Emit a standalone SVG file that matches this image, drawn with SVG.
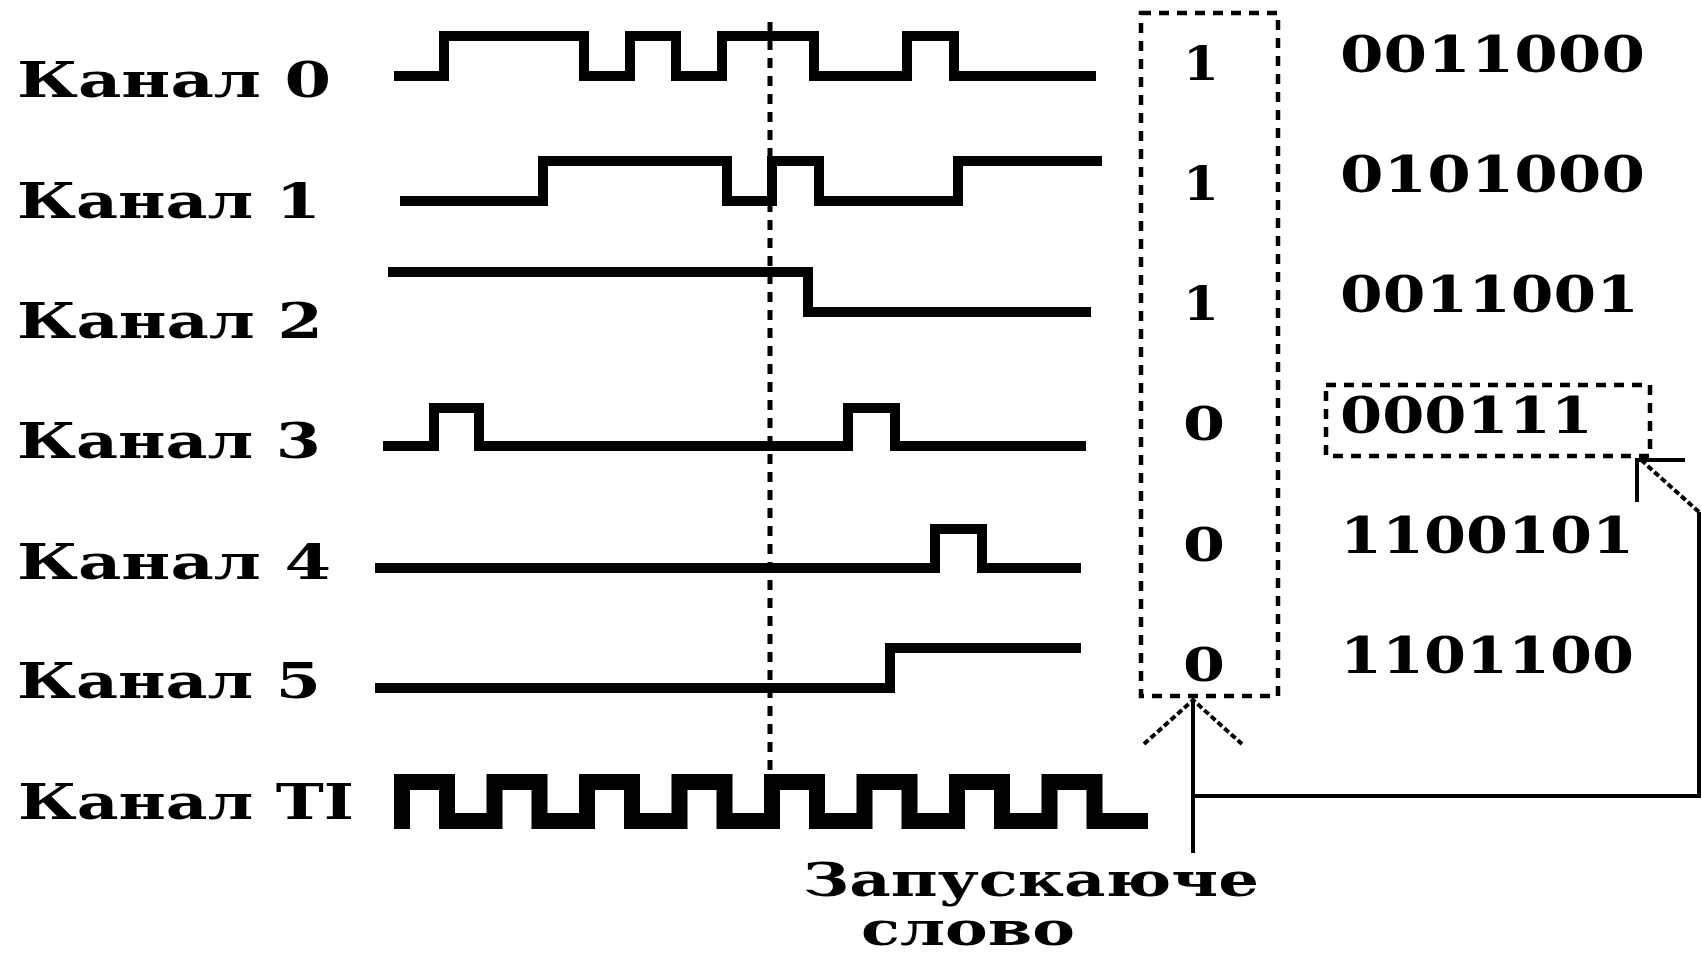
<svg xmlns="http://www.w3.org/2000/svg" width="1702" height="956" viewBox="0 0 1702 956">
<style>
.lbl{font-family:"DejaVu Serif","Liberation Serif",serif;font-weight:bold;font-size:49px;fill:#000}
.bit{font-family:"DejaVu Serif","Liberation Serif",serif;font-weight:bold;font-size:46px;fill:#000}
.word{font-family:"DejaVu Serif","Liberation Serif",serif;font-weight:bold;font-size:50px;fill:#000}
.cap{font-family:"DejaVu Serif","Liberation Serif",serif;font-weight:bold;font-size:46px;fill:#000}
.sig{fill:none;stroke:#000;stroke-width:10;stroke-linejoin:miter}
.clk{fill:none;stroke:#000;stroke-width:16;stroke-linejoin:miter}
.dash{fill:none;stroke:#000;stroke-width:4.5;stroke-dasharray:10 8}
.ln{fill:none;stroke:#000;stroke-width:4}
.dot{fill:none;stroke:#000;stroke-width:4;stroke-dasharray:6 3}
</style>
<rect width="1702" height="956" fill="#fff"/>

<g id="labels">
<text class="lbl" x="17" y="97" textLength="314" lengthAdjust="spacingAndGlyphs">Канал 0</text>
<text class="lbl" x="17" y="218" textLength="304" lengthAdjust="spacingAndGlyphs">Канал 1</text>
<text class="lbl" x="17" y="338" textLength="306" lengthAdjust="spacingAndGlyphs">Канал 2</text>
<text class="lbl" x="17" y="458" textLength="304" lengthAdjust="spacingAndGlyphs">Канал 3</text>
<text class="lbl" x="17" y="579" textLength="314" lengthAdjust="spacingAndGlyphs">Канал 4</text>
<text class="lbl" x="17" y="698" textLength="304" lengthAdjust="spacingAndGlyphs">Канал 5</text>
<text class="lbl" x="18" y="819" textLength="336" lengthAdjust="spacingAndGlyphs">Канал TI</text>
</g>

<g id="signals">
<path id="ch0" class="sig" d="M394,76 H444 V36 H584 V76 H630 V36 H676 V76 H722 V36 H814 V76 H907 V36 H954 V76 H1096"/>
<path id="ch1" class="sig" d="M400,201 H543 V161 H727 V201 H772 V161 H819 V201 H958 V161 H1102"/>
<path id="ch2" class="sig" d="M388,272 H808 V312 H1091"/>
<path id="ch3" class="sig" d="M383,446 H434 V408 H479 V446 H848 V408 H895 V446 H1086"/>
<path id="ch4" class="sig" d="M375,568 H935 V529 H982 V568 H1081"/>
<path id="ch5" class="sig" d="M375,688 H890 V648 H1081"/>
<path id="chTI" class="clk" d="M402,829 V782 H447 V821 H494.5 V782 H539.5 V821 H587 V782 H632 V821 H679.5 V782 H724.5 V821 H772 V782 H817 V821 H864.5 V782 H909.5 V821 H957 V782 H1002 V821 H1049.5 V782 H1094.5 V821 H1148"/>
</g>

<g id="time-marker">
<line class="dash" x1="770" y1="22" x2="770" y2="776" style="stroke-width:5"/>
</g>

<g id="trigger-column">
<rect class="dash" x="1141" y="13" width="137" height="683"/>
<text class="bit" x="1183" y="80" textLength="36" lengthAdjust="spacingAndGlyphs">1</text>
<text class="bit" x="1183" y="200" textLength="36" lengthAdjust="spacingAndGlyphs">1</text>
<text class="bit" x="1183" y="320" textLength="36" lengthAdjust="spacingAndGlyphs">1</text>
<text class="bit" x="1183" y="440" textLength="42" lengthAdjust="spacingAndGlyphs">0</text>
<text class="bit" x="1183" y="561" textLength="42" lengthAdjust="spacingAndGlyphs">0</text>
<text class="bit" x="1183" y="681" textLength="42" lengthAdjust="spacingAndGlyphs">0</text>
</g>

<g id="words">
<text class="word" x="1340" y="72" textLength="305" lengthAdjust="spacingAndGlyphs">0011000</text>
<text class="word" x="1340" y="192" textLength="305" lengthAdjust="spacingAndGlyphs">0101000</text>
<text class="word" x="1340" y="312" textLength="299" lengthAdjust="spacingAndGlyphs">0011001</text>
<g id="word-match">
<rect class="dash" x="1326" y="385" width="324" height="71"/>
<text class="word" x="1340" y="433" textLength="253" lengthAdjust="spacingAndGlyphs">000111</text>
</g>
<text class="word" x="1340" y="553" textLength="294" lengthAdjust="spacingAndGlyphs">1100101</text>
<text class="word" x="1340" y="673" textLength="294" lengthAdjust="spacingAndGlyphs">1101100</text>
</g>

<g id="trigger-label">
<text class="cap" x="803" y="896" textLength="456" lengthAdjust="spacingAndGlyphs">Запускаюче</text>
<text class="cap" x="861" y="945" textLength="214" lengthAdjust="spacingAndGlyphs">слово</text>
</g>

<g id="connectors">
<line class="ln" x1="1193" y1="853" x2="1193" y2="700"/>
<polyline class="dot" points="1144,744 1193,700 1242,744"/>
<polyline class="ln" points="1193,796 1699,796 1699,512"/>
<line class="dot" x1="1699" y1="512" x2="1640" y2="459"/>
<polyline class="ln" points="1685,460 1637,460 1637,502"/>
</g>
</svg>
